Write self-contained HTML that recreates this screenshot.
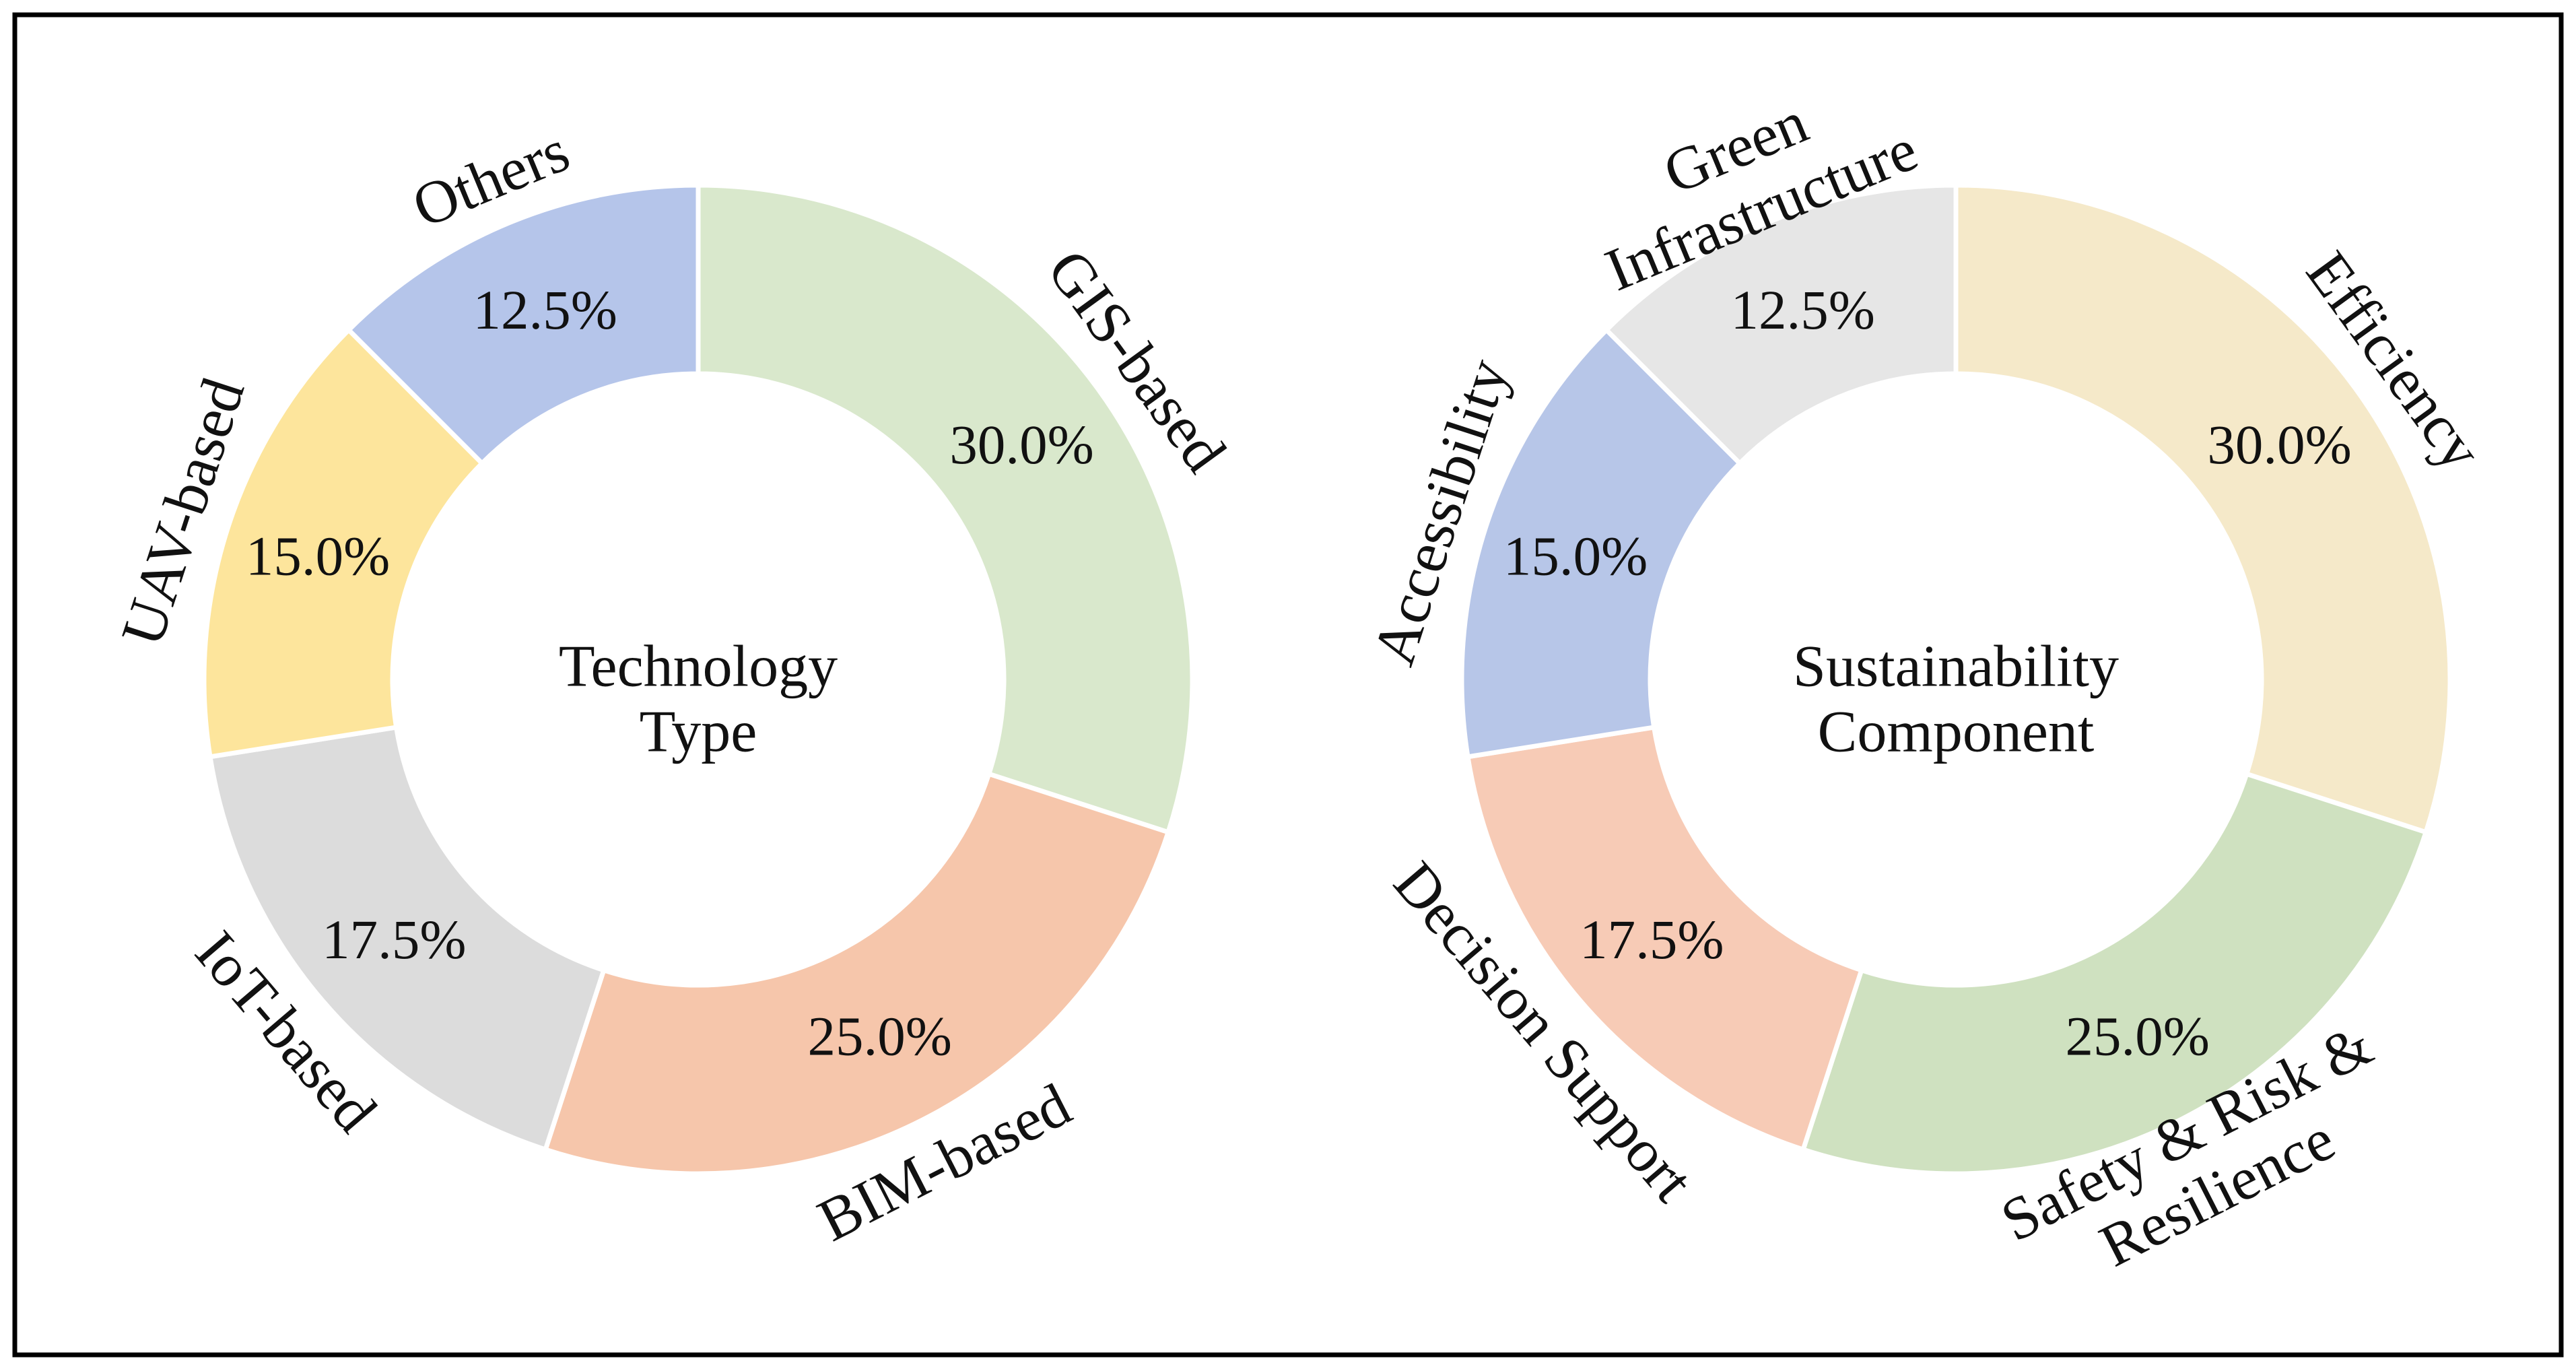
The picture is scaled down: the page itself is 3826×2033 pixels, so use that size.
<!DOCTYPE html>
<html><head><meta charset="utf-8"><style>
html,body{margin:0;padding:0;background:#fff;}
svg{display:block;}
text{font-family:"Liberation Serif",serif;fill:#111;}
</style></head><body>
<svg id="chart" width="3826" height="2033" viewBox="0 0 3826 2033">
<rect x="22" y="22" width="3782" height="1990" fill="#fff" stroke="#000" stroke-width="7"/>
<g id="left"></g>
<g id="right"></g>
</svg>
<script>
const leftCategories = ["GIS-based","BIM-based","IoT-based","UAV-based","Others"];
const leftValues = [30.0,25.0,17.5,15.0,12.5];
const leftColors = ["#d9e8cc","#f6c6ab","#dcdcdc","#fde59c","#b5c5ea"];
const rightCategories = ["Efficiency","Safety & Risk &|Resilience","Decision Support","Accessibility","Green|Infrastructure"];
const rightValues = [30.0,25.0,17.5,15.0,12.5];
const rightColors = ["#f5e9c9","#cfe1c0","#f7cbb6","#b7c6e8","#e6e6e6"];

const NS="http://www.w3.org/2000/svg";
const R=734, r0=454, labelR=(R+r0)/2, outerR=805;
function pt(cx,cy,rad,deg){const a=deg*Math.PI/180;return [cx+rad*Math.sin(a), cy-rad*Math.cos(a)];}
function donut(gid,cx,cy,cats,vals,cols,title){
  const g=document.getElementById(gid);
  const total=vals.reduce((a,b)=>a+b,0);
  let start=0;
  vals.forEach((v,i)=>{
    const sweep=v/total*360, end=start+sweep, mid=start+sweep/2;
    const [x1,y1]=pt(cx,cy,R,start),[x2,y2]=pt(cx,cy,R,end),[x3,y3]=pt(cx,cy,r0,end),[x4,y4]=pt(cx,cy,r0,start);
    const la=sweep>180?1:0;
    const p=document.createElementNS(NS,"path");
    p.setAttribute("d",`M${x1},${y1} A${R},${R} 0 ${la} 1 ${x2},${y2} L${x3},${y3} A${r0},${r0} 0 ${la} 0 ${x4},${y4} Z`);
    p.setAttribute("fill",cols[i]);p.setAttribute("stroke","#fff");p.setAttribute("stroke-width","7");
    
    
    g.appendChild(p);
    const [lx,ly]=pt(cx,cy,labelR,mid);
    const t=document.createElementNS(NS,"text");
    t.setAttribute("x",lx);t.setAttribute("y",ly);t.setAttribute("text-anchor","middle");
    t.setAttribute("dominant-baseline","central");t.setAttribute("font-size","83");
    t.textContent=v.toFixed(1)+"%";
    
    
    g.appendChild(t);
    const [ox,oy]=pt(cx,cy,outerR,mid);
    let rot=mid<=90?mid:(mid<270?mid-180:mid-360);
    const lines=cats[i].split("|");
    const ct=document.createElementNS(NS,"text");
    ct.setAttribute("transform",`translate(${ox},${oy}) rotate(${rot})`);
    ct.setAttribute("text-anchor","middle");ct.setAttribute("font-size","90");
    lines.forEach((ln,k)=>{
      const ts=document.createElementNS(NS,"tspan");
      ts.setAttribute("x","0");
      const off=(k-(lines.length-1)/2)*100+30;
      ts.setAttribute("y", String(off));
      ts.textContent=ln;
      ct.appendChild(ts);
    });
    
    
    g.appendChild(ct);
    start=end;
  });
  title.forEach((ln,k)=>{
    const t=document.createElementNS(NS,"text");
    t.setAttribute("x",cx);t.setAttribute("y",cy+(k-(title.length-1)/2)*97+58);
    t.setAttribute("text-anchor","middle");t.setAttribute("font-size","88");
    t.textContent=ln;
    
    
    g.appendChild(t);
  });
}
donut("left",1037,1009,leftCategories,leftValues,leftColors,["Technology","Type"]);
donut("right",2905,1009,rightCategories,rightValues,rightColors,["Sustainability","Component"]);
</script>
</body></html>
